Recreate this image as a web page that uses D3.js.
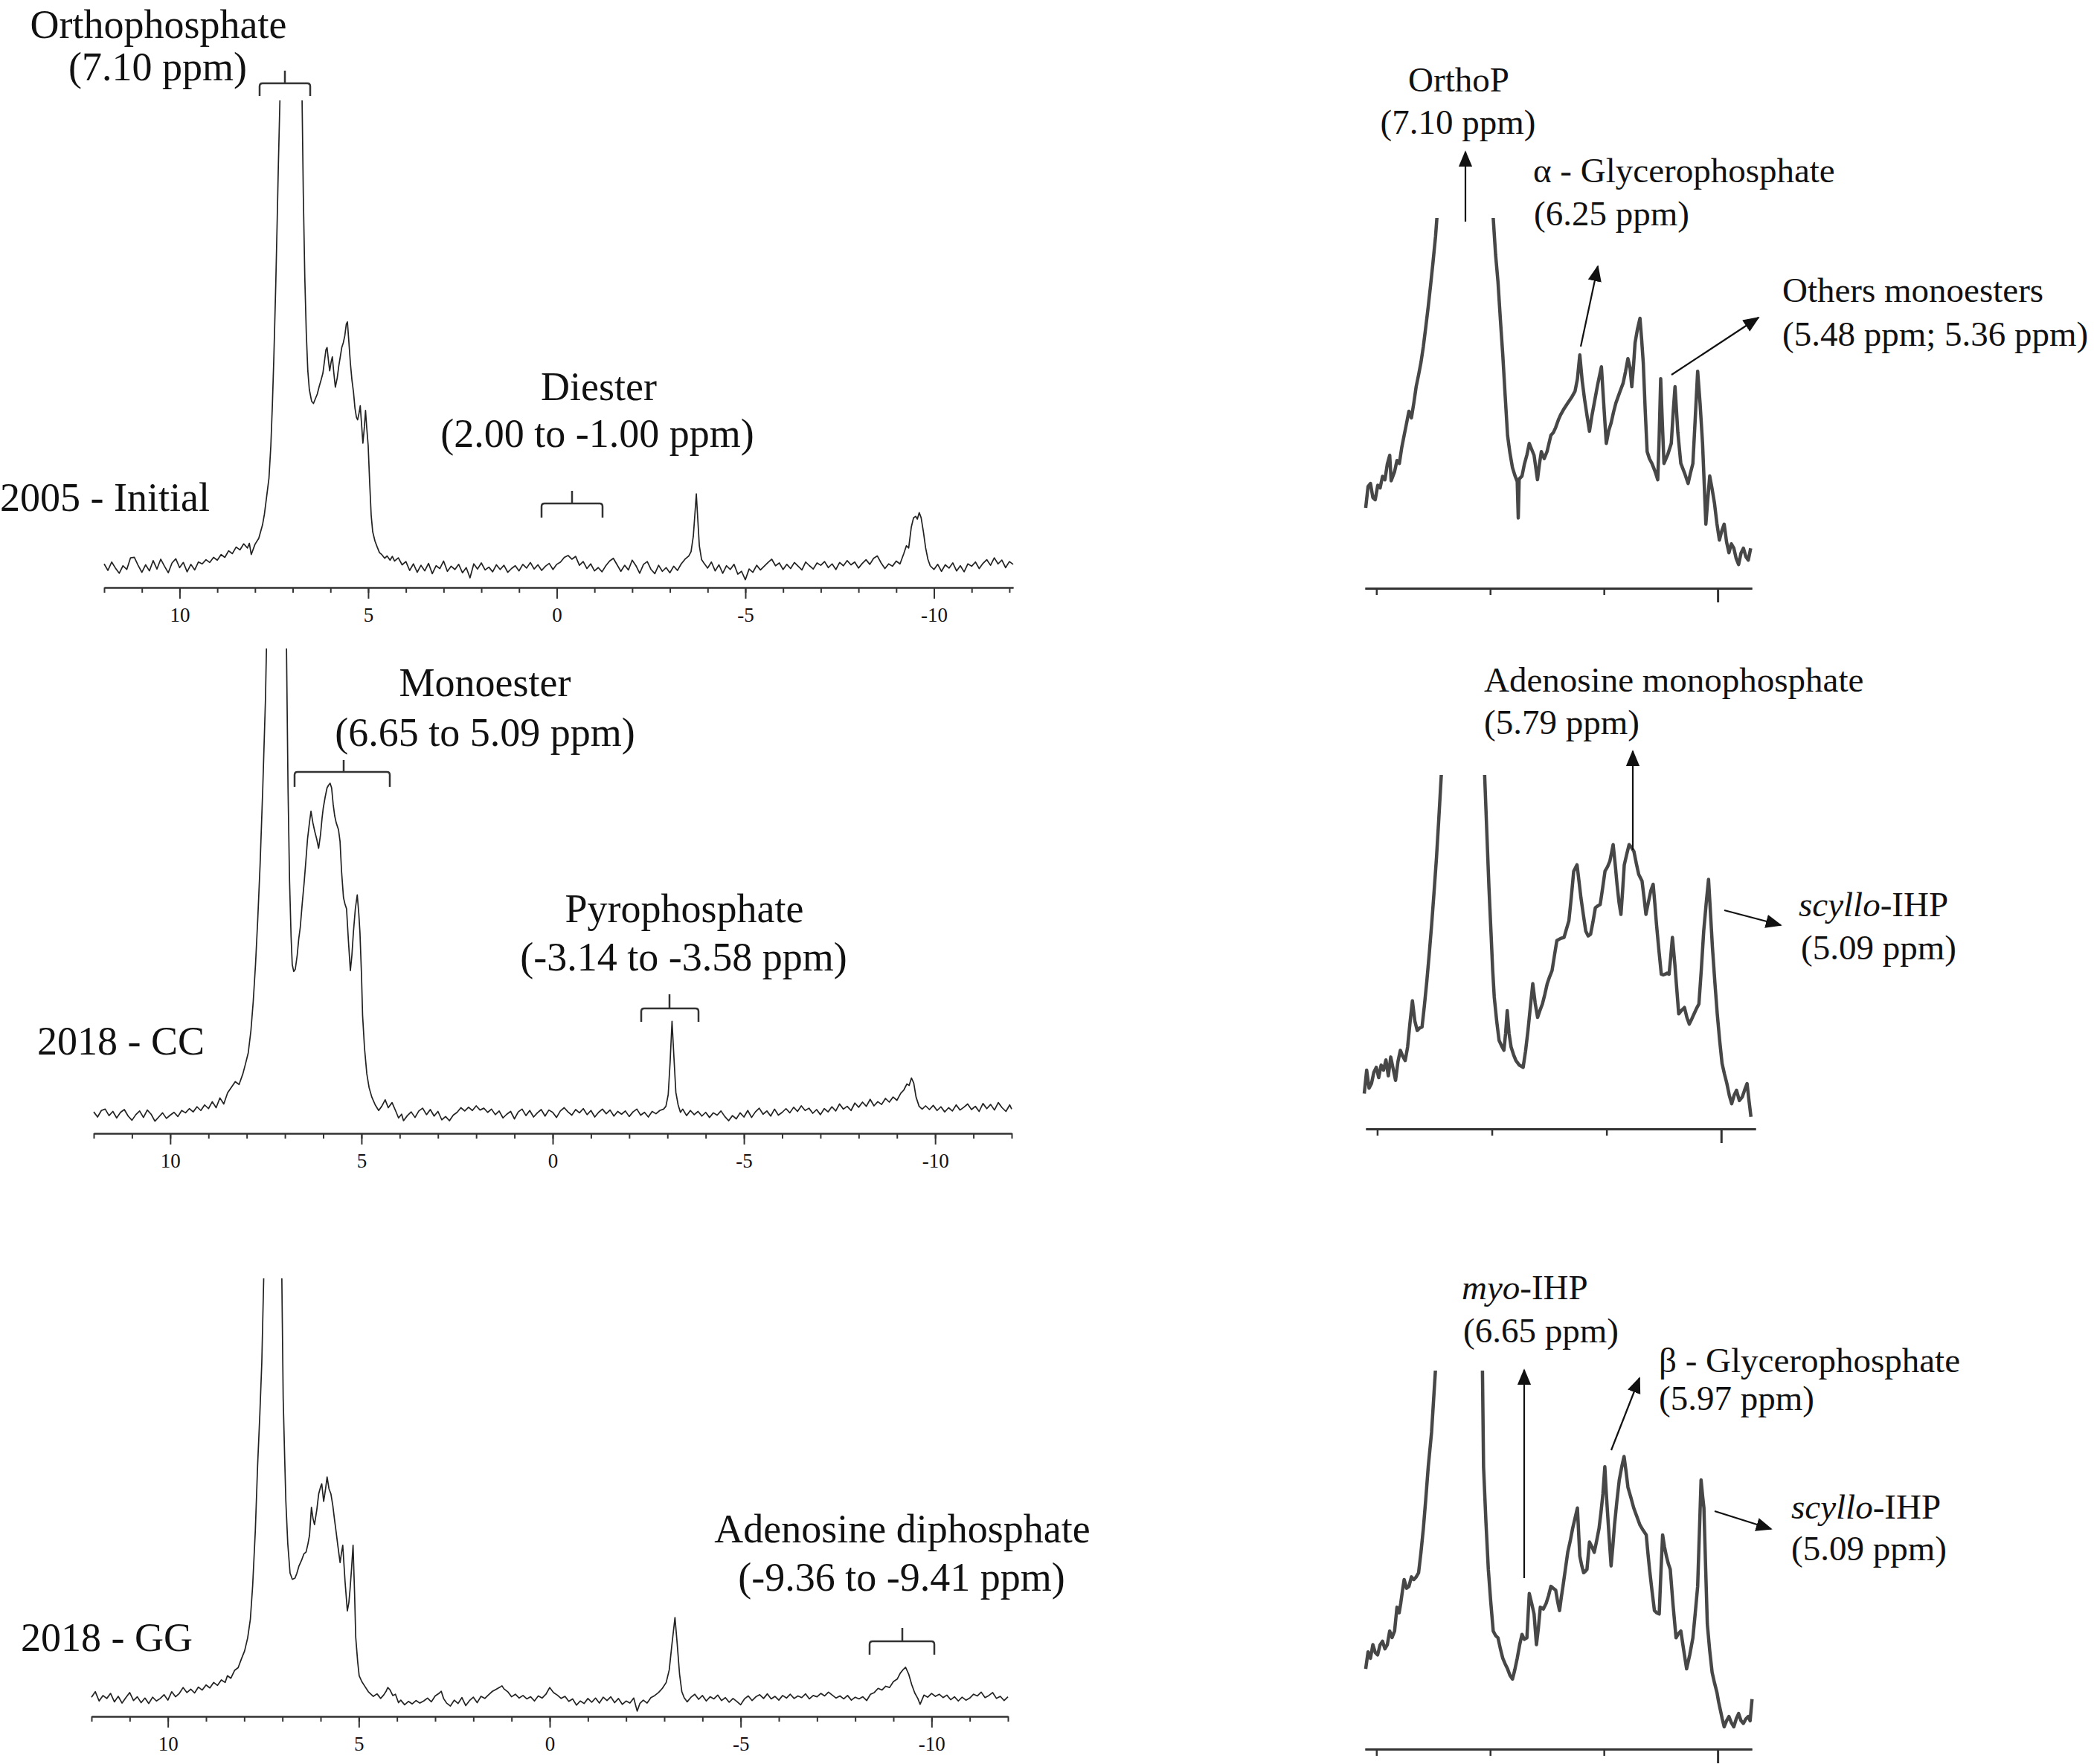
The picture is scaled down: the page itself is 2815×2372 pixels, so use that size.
<!DOCTYPE html>
<html><head><meta charset="utf-8">
<script src="https://cdn.jsdelivr.net/npm/d3@7"></script>
<style>
body{margin:0;background:#fff}
text{font-family:"Liberation Serif","Times New Roman",serif;fill:#111}
</style>
</head><body>
<script>
// ===== DATA =====
// Left wide-range spectra: [ppm, intensity] (0 = baseline, 100 = top of plot, larger values run off the top)
const spectrumInitial = [
[12,0.6],[11.9,-0.8],[11.8,1.0],[11.7,-0.3],[11.6,-1.4],[11.5,0.2],[11.4,-0.6],[11.3,1.9],[11.2,2.0],[11.1,0.3],
[11,-1.2],[10.9,0.4],[10.8,-0.9],[10.7,1.3],[10.6,-0.5],[10.5,1.6],[10.4,0.1],[10.3,-1.3],[10.2,0.8],[10.1,1.7],
[10,-0.2],[9.9,0.9],[9.8,-1.1],[9.7,0.5],[9.6,-0.7],[9.5,1.0],[9.4,0.6],[9.3,1.5],[9.2,0.9],[9.1,2.0],
[9,1.4],[8.9,2.6],[8.8,2.0],[8.7,3.4],[8.6,2.8],[8.5,4.2],[8.4,3.6],[8.3,4.9],[8.2,4.0],[8.15,5.0],[8.1,2.6],
[8,4.8],[7.9,6.1],[7.8,9.0],[7.75,11.3],[7.7,14.5],[7.63,19],[7.58,26],[7.54,34.6],[7.5,45],[7.45,60.5],[7.41,75],
[7.38,86.4],[7.34,100],[7.3,125],[7.2,200],[7.1,240],[6.9,200],[6.8,140],[6.76,105],[6.72,80],[6.68,62],[6.64,50],
[6.6,42],[6.56,38],[6.5,35.5],[6.45,35],[6.4,36],[6.35,37],[6.3,38.6],[6.25,40],[6.2,41.5],[6.16,44],[6.12,46.5],
[6.09,47],[6.05,44],[6.02,42],[5.98,44],[5.95,45],[5.91,41.5],[5.87,38.5],[5.82,40.5],[5.78,43],[5.74,45],[5.7,47],
[5.66,48],[5.62,49.5],[5.58,52],[5.55,52.5],[5.51,48],[5.47,43.5],[5.43,40],[5.39,37.5],[5.35,34],[5.31,32],[5.28,31.5],
[5.24,33],[5.21,34.5],[5.17,30],[5.14,26.5],[5.1,30],[5.07,33.5],[5.04,30],[5,26],[4.96,18],[4.92,11],[4.88,7.5],
[4.82,5.5],[4.76,4.2],[4.7,3.0],[4.64,2.6],[4.56,1.8],[4.5,2.3],[4.42,1.4],[4.36,2.2],[4.3,1.2],[4.2,1.9],[4.1,0.4],
[4,1.1],[3.9,-0.8],[3.8,0.6],[3.7,-1.2],[3.6,0.3],[3.5,-0.9],[3.4,0.7],[3.3,-1.5],[3.2,0.2],[3.1,-0.4],[3,1.2],
[2.9,-1.0],[2.8,0.1],[2.7,-0.6],[2.6,0.5],[2.5,-1.3],[2.4,-0.2],[2.3,-2.4],[2.2,0.6],[2.1,-0.5],[2,0.8],[1.9,-0.7],
[1.8,-0.1],[1.7,-1.1],[1.6,0.4],[1.5,-0.6],[1.4,0.3],[1.3,-1.2],[1.2,-0.4],[1.1,0.2],[1,-0.9],[0.9,0.5],[0.8,-0.3],
[0.7,0.9],[0.6,-0.5],[0.5,0.4],[0.4,-0.8],[0.3,0.1],[0.2,0.7],[0.1,-0.6],[0,0.5],[-0.1,1.0],[-0.2,2.0],[-0.3,2.4],
[-0.4,1.6],[-0.5,2.2],[-0.6,0.3],[-0.7,1.1],[-0.8,-0.4],[-0.9,0.6],[-1,-0.9],[-1.1,-0.2],[-1.2,-1.1],[-1.3,0.2],
[-1.4,1.2],[-1.5,1.8],[-1.6,0.4],[-1.7,-1.0],[-1.8,0.3],[-1.9,-0.7],[-2,1.4],[-2.1,0.2],[-2.2,-1.4],[-2.3,0.5],
[-2.4,1.1],[-2.5,-0.6],[-2.6,-1.5],[-2.7,0.3],[-2.8,-1.0],[-2.9,-0.2],[-3,-1.3],[-3.1,0.1],[-3.2,-0.8],[-3.3,0.6],
[-3.4,1.6],[-3.5,2.3],[-3.56,3.2],[-3.62,6.5],[-3.66,11],[-3.7,15.6],[-3.74,10],[-3.78,4.5],[-3.84,1.5],[-3.9,0.8],
[-4,-0.3],[-4.1,1.0],[-4.2,-0.9],[-4.3,0.4],[-4.4,-1.4],[-4.5,0.2],[-4.6,-0.6],[-4.7,0.5],[-4.8,-1.6],[-4.9,-1.0],
[-5,-2.8],[-5.1,-0.5],[-5.2,-1.2],[-5.3,0.3],[-5.4,-0.7],[-5.5,0.1],[-5.6,0.9],[-5.7,1.6],[-5.8,0.2],[-5.9,0.8],
[-6,-0.6],[-6.1,0.5],[-6.2,-0.4],[-6.3,0.9],[-6.4,0.1],[-6.5,-0.7],[-6.6,1.0],[-6.7,0.2],[-6.8,-0.5],[-6.9,0.8],
[-7,0.3],[-7.1,1.1],[-7.2,-0.2],[-7.3,0.6],[-7.4,-0.6],[-7.5,0.9],[-7.6,0.2],[-7.7,1.3],[-7.8,0.4],[-7.9,1.0],
[-8,-0.3],[-8.1,0.7],[-8.2,1.5],[-8.3,0.5],[-8.4,1.8],[-8.5,2.3],[-8.6,0.8],[-8.7,-0.4],[-8.8,0.6],[-8.9,0.1],
[-9,1.2],[-9.1,0.6],[-9.2,2.8],[-9.27,4.5],[-9.33,4.0],[-9.4,8.5],[-9.46,10.5],[-9.52,10.8],[-9.56,10.2],[-9.61,11.6],
[-9.66,10.5],[-9.72,7.5],[-9.78,4.0],[-9.84,1.6],[-9.9,0.2],[-10,-0.6],[-10.1,0.5],[-10.2,-1.0],[-10.3,0.4],[-10.4,-0.3],
[-10.5,0.8],[-10.6,-0.9],[-10.7,0.2],[-10.8,-1.1],[-10.9,0.6],[-11,0.1],[-11.1,1.0],[-11.2,-0.4],[-11.3,0.7],[-11.4,1.5],
[-11.5,0.3],[-11.6,1.9],[-11.7,0.6],[-11.8,1.4],[-11.9,-0.2],[-12,1.1],[-12.1,0.5]
];

const spectrumCC = [
[12,0.3],[11.9,-0.8],[11.8,0.6],[11.7,0.9],[11.6,-0.5],[11.5,0.4],[11.4,-1.0],[11.3,0.2],[11.2,0.8],[11.1,-0.6],
[11,-1.5],[10.9,-0.3],[10.8,0.5],[10.7,-0.9],[10.6,0.7],[10.5,-0.2],[10.4,-1.7],[10.3,-0.8],[10.2,0.1],[10.1,-1.1],
[10,-0.4],[9.9,0.2],[9.8,-0.7],[9.7,0.6],[9.6,0.1],[9.5,1.0],[9.4,0.3],[9.3,1.4],[9.2,0.6],[9.1,1.8],
[9,1.0],[8.9,2.5],[8.8,1.2],[8.7,3.3],[8.6,2.0],[8.5,4.4],[8.4,5.6],[8.3,6.8],[8.2,6.2],[8.1,8.5],
[8.03,10.7],[7.96,13],[7.89,17.8],[7.83,24],[7.77,32],[7.71,42],[7.65,53.5],[7.58,70],[7.51,89],[7.46,110],
[7.4,160],[7.2,230],[7,150],[6.96,100],[6.92,70],[6.88,50],[6.84,38],[6.81,32],[6.77,30.5],[6.73,31],
[6.68,34],[6.64,37.5],[6.6,40],[6.55,45],[6.5,49.5],[6.46,53.6],[6.41,59],[6.36,62.5],[6.32,65],[6.27,62.5],
[6.22,60.6],[6.17,59],[6.12,57],[6.07,60],[6.03,63.5],[6,65.6],[5.95,68],[5.9,70],[5.86,70.6],[5.82,71],
[5.78,70],[5.74,66.5],[5.7,64],[5.66,62.5],[5.6,61],[5.56,58.5],[5.52,52],[5.47,46.4],[5.43,45],[5.39,44],
[5.34,37],[5.29,30.7],[5.25,34],[5.21,39],[5.16,44],[5.11,47],[5.07,43],[5.04,39],[5,30],[4.97,21],
[4.92,14],[4.86,8.5],[4.8,5.5],[4.73,3.5],[4.64,1.8],[4.55,0.6],[4.47,1.5],[4.38,2.9],[4.3,1.2],[4.2,2.3],
[4.1,0.4],[4.03,-1.0],[3.95,-0.2],[3.9,-1.6],[3.8,-0.5],[3.7,0.3],[3.6,-0.9],[3.5,0.5],[3.4,1.1],[3.3,-0.3],
[3.2,0.8],[3.1,-0.6],[3,0.4],[2.9,-1.4],[2.8,-0.7],[2.7,-1.6],[2.6,-0.4],[2.5,0.2],[2.4,1.2],[2.3,0.5],
[2.2,1.3],[2.1,0.6],[2,1.6],[1.9,0.7],[1.8,1.1],[1.7,0.2],[1.6,0.9],[1.5,-0.3],[1.4,0.5],[1.3,-1.0],
[1.2,-0.2],[1.1,0.4],[1,-1.2],[0.9,0.3],[0.8,0.9],[0.7,-0.5],[0.6,0.6],[0.5,-0.8],[0.4,0.1],[0.3,0.8],
[0.2,-0.6],[0.1,0.7],[0,0.2],[-0.1,-0.9],[-0.2,0.5],[-0.3,1.2],[-0.4,0.3],[-0.5,-0.4],[-0.6,0.8],[-0.7,0.1],
[-0.8,1.0],[-0.9,-0.3],[-1,0.6],[-1.1,-0.8],[-1.2,0.2],[-1.3,0.9],[-1.4,-0.1],[-1.5,0.7],[-1.6,-0.6],[-1.7,0.4],
[-1.8,-0.2],[-1.9,0.5],[-2,-0.7],[-2.1,0.3],[-2.2,0.9],[-2.3,-0.4],[-2.4,0.2],[-2.5,-0.8],[-2.6,0.4],[-2.7,-0.1],
[-2.8,0.6],[-2.9,0.9],[-2.96,1.5],[-3.02,4],[-3.07,11],[-3.12,19.8],[-3.17,12],[-3.22,4.5],[-3.28,1.8],[-3.34,0.2],
[-3.4,0.9],[-3.5,-0.5],[-3.6,0.6],[-3.7,-0.3],[-3.8,0.4],[-3.9,-0.6],[-4,0.2],[-4.1,-0.9],[-4.2,0.1],[-4.3,-0.4],
[-4.4,0.5],[-4.5,-0.7],[-4.6,-1.6],[-4.7,-0.5],[-4.8,-1.2],[-4.9,0.1],[-5,-0.8],[-5.1,0.6],[-5.2,-0.9],[-5.3,0.3],
[-5.4,1.1],[-5.5,-0.2],[-5.6,0.5],[-5.7,-0.6],[-5.8,0.9],[-5.9,-0.4],[-6,0.2],[-6.1,1.0],[-6.2,0.1],[-6.3,1.3],
[-6.4,0.4],[-6.5,1.6],[-6.6,0.6],[-6.7,1.1],[-6.8,0],[-6.9,0.8],[-7,-0.3],[-7.1,1.0],[-7.2,0.3],[-7.3,1.4],
[-7.4,0.5],[-7.5,2.0],[-7.6,0.9],[-7.7,1.5],[-7.8,0.6],[-7.9,2.2],[-8,1.3],[-8.1,2.4],[-8.2,1.5],[-8.3,3.0],
[-8.4,1.6],[-8.5,2.5],[-8.6,1.9],[-8.7,3.2],[-8.8,2.4],[-8.9,3.5],[-9,2.8],[-9.1,4.3],[-9.18,5.0],[-9.26,6.3],
[-9.32,6.0],[-9.38,7.6],[-9.44,6.5],[-9.5,3.5],[-9.58,1.5],[-9.66,0.9],[-9.75,1.6],[-9.85,0.8],[-9.95,1.7],[-10.05,0.6],
[-10.15,1.4],[-10.25,0.3],[-10.35,1.2],[-10.45,0.5],[-10.55,1.8],[-10.65,0.7],[-10.75,1.3],[-10.85,2.0],[-10.95,0.8],[-11.05,1.5],
[-11.15,0.4],[-11.25,2.1],[-11.35,1.0],[-11.45,1.9],[-11.55,0.7],[-11.65,2.3],[-11.75,1.2],[-11.85,0.4],[-11.95,1.8],[-12,0.9]
];

const spectrumGG = [
[12,0.5],[11.9,1.8],[11.8,-0.4],[11.7,0.9],[11.6,0.2],[11.5,1.4],[11.4,-0.6],[11.3,0.7],[11.2,-0.9],[11.1,0.4],
[11,1.6],[10.9,-0.3],[10.8,0.6],[10.7,-0.8],[10.6,0.3],[10.5,-1.0],[10.4,0.5],[10.3,-0.4],[10.2,0.2],[10.1,1.1],
[10,-0.2],[9.9,1.8],[9.8,0.6],[9.7,1.4],[9.6,2.8],[9.5,1.6],[9.4,2.4],[9.3,1.5],[9.2,2.9],[9.1,2.2],
[9,3.4],[8.9,2.7],[8.8,4.0],[8.7,3.3],[8.6,4.6],[8.5,4.0],[8.44,5.6],[8.35,5.0],[8.25,6.9],[8.16,7.5],
[8.07,9.7],[7.99,11.5],[7.91,14.6],[7.84,19],[7.78,26.9],[7.71,40],[7.65,55.5],[7.59,68],[7.54,80],[7.49,100],
[7.44,140],[7.3,230],[7.1,200],[7.04,120],[6.98,71.5],[6.94,57],[6.91,47],[6.86,37],[6.8,30],[6.74,28.5],
[6.67,28.8],[6.62,30],[6.57,31.6],[6.5,33],[6.44,34.5],[6.38,35],[6.33,37],[6.29,39],[6.26,43],[6.24,45.6],
[6.2,43],[6.16,41.5],[6.1,45],[6.05,48.8],[6,50.5],[5.97,51.2],[5.92,47],[5.87,50],[5.83,52.8],[5.78,50],
[5.73,48.8],[5.68,46],[5.64,43],[5.59,39.5],[5.55,36.6],[5.49,32.5],[5.45,35],[5.42,36.6],[5.36,28],[5.3,21],
[5.26,23],[5.23,26],[5.19,31],[5.15,36.6],[5.11,25],[5.08,14.7],[5.03,9],[4.99,5.6],[4.92,4.2],[4.85,3.2],
[4.75,1.8],[4.62,0.7],[4.52,1.3],[4.43,0.2],[4.35,1.0],[4.28,2.0],[4.24,2.8],[4.18,2.2],[4.11,0.9],[4.04,1.2],
[3.96,-0.8],[3.9,-0.2],[3.8,-1.3],[3.7,-0.5],[3.6,-1.1],[3.5,-0.3],[3.4,-0.9],[3.3,-0.4],[3.2,0.3],[3.1,-0.6],
[3,0.8],[2.9,1.4],[2.84,1.9],[2.78,0.2],[2.7,-0.9],[2.6,-1.6],[2.5,-0.2],[2.4,-1.0],[2.3,0.4],[2.2,-1.5],
[2.1,-0.3],[2,0.5],[1.9,-0.8],[1.8,0.7],[1.7,0.2],[1.6,1.1],[1.5,1.9],[1.4,2.4],[1.3,2.9],[1.25,3.2],
[1.2,2.5],[1.1,1.8],[1,0.6],[0.9,1.2],[0.8,0.3],[0.7,0.9],[0.6,0.1],[0.5,0.6],[0.4,-0.4],[0.3,0.8],
[0.2,0.3],[0.1,1.2],[0,2.8],[-0.1,1.6],[-0.2,1.0],[-0.3,0.2],[-0.4,0.7],[-0.5,-0.5],[-0.6,0.1],[-0.7,-1.4],
[-0.8,-0.4],[-0.9,-1.0],[-1,0.2],[-1.1,-0.7],[-1.2,0.3],[-1.3,-0.9],[-1.4,0.5],[-1.5,-0.3],[-1.6,0.6],[-1.7,-0.8],
[-1.8,0.2],[-1.9,-1.2],[-2,-0.4],[-2.1,-0.9],[-2.2,0.3],[-2.29,-2.8],[-2.36,-1.0],[-2.45,-0.2],[-2.55,-0.9],[-2.65,0.4],
[-2.75,0.9],[-2.85,1.6],[-2.95,2.6],[-3.05,4.0],[-3.13,7],[-3.2,13],[-3.28,19.4],[-3.34,13],[-3.4,6],[-3.46,1.8],
[-3.52,0.4],[-3.6,-0.6],[-3.7,0.5],[-3.8,1.2],[-3.9,0],[-4,0.9],[-4.1,-0.4],[-4.2,0.6],[-4.3,0.1],[-4.4,1.0],
[-4.5,-0.3],[-4.6,0.4],[-4.7,-0.7],[-4.8,0.2],[-4.9,-0.5],[-5,-1.3],[-5.1,0.1],[-5.2,0.8],[-5.3,-0.3],[-5.4,0.6],
[-5.5,1.1],[-5.6,0.2],[-5.7,1.3],[-5.8,0.1],[-5.9,0.7],[-6,-0.2],[-6.1,0.9],[-6.2,0.3],[-6.3,1.2],[-6.4,0.2],
[-6.5,0.8],[-6.6,0.4],[-6.7,1.3],[-6.8,0.1],[-6.9,0.9],[-7,0.6],[-7.1,1.4],[-7.2,0.8],[-7.3,1.7],[-7.4,1.0],
[-7.5,0.3],[-7.6,0.8],[-7.7,0.1],[-7.8,0.9],[-7.9,-0.2],[-8,0.5],[-8.1,0.1],[-8.2,0.6],[-8.3,-0.3],[-8.4,1.2],
[-8.5,1.6],[-8.6,2.6],[-8.7,2.2],[-8.8,3.1],[-8.9,2.8],[-9,4.2],[-9.1,4.8],[-9.18,6.2],[-9.26,7.1],[-9.32,7.6],
[-9.4,6.0],[-9.48,3.5],[-9.56,1.5],[-9.64,0.2],[-9.7,-1.2],[-9.8,1.0],[-9.9,0.5],[-10,1.4],[-10.1,0.7],[-10.2,1.2],
[-10.3,0.4],[-10.4,1.0],[-10.5,-0.1],[-10.6,0.6],[-10.7,-0.4],[-10.8,0.5],[-10.9,-0.2],[-11,0.3],[-11.1,1.2],[-11.2,0.8],
[-11.3,1.7],[-11.4,0.4],[-11.5,0.9],[-11.6,1.6],[-11.7,0.2],[-11.8,0.7],[-11.9,-0.3],[-12,0.6]
];

// Right expanded monoester-region spectra (8.1 to 4.7 ppm)
const expandInitial = [
[8.094,21.7],[8.073,27.5],[8.052,28.3],[8.031,24.5],[8.01,23.9],[7.988,27.8],[7.967,27.1],[7.946,30.2],[7.925,29.3],[7.904,33.5],
[7.883,35.9],[7.87,29.0],[7.84,31.5],[7.819,34.5],[7.798,33.7],[7.777,38.0],[7.756,41.3],[7.735,44.5],[7.714,47.8],[7.692,46.0],
[7.671,50],[7.65,54.5],[7.629,57.6],[7.608,61.0],[7.587,65.3],[7.566,70.5],[7.544,76.1],[7.523,82.0],[7.502,88.1],[7.48,95],
[7.468,100],[7.45,120],[7.2,200],[6.98,120],[6.973,100],[6.952,90],[6.931,82.7],[6.91,72.5],[6.889,63],[6.868,52],
[6.847,41.3],[6.826,36.5],[6.804,32.6],[6.783,30.5],[6.762,28.8],[6.753,19],[6.745,29.5],[6.72,30.3],[6.699,33.5],[6.677,36.0],
[6.656,39.1],[6.635,37.5],[6.614,35.9],[6.584,29.3],[6.567,33.5],[6.55,36.9],[6.525,35.0],[6.5,36.9],[6.466,41.3],[6.445,42.0],
[6.424,43.4],[6.4,45.5],[6.381,46.8],[6.35,48.5],[6.318,50],[6.285,51.5],[6.254,53.2],[6.233,56.5],[6.212,63],[6.191,56.0],
[6.17,51],[6.148,46.5],[6.127,42.4],[6.106,46.5],[6.085,50],[6.055,55.0],[6.022,59.8],[6.0,49.0],[5.979,39.1],[5.958,42.5],
[5.937,44.6],[5.916,47.5],[5.895,50],[5.86,53.0],[5.831,55.4],[5.81,58.5],[5.789,62],[5.77,59.5],[5.755,54.4],[5.74,60.0],
[5.726,66.3],[5.705,70.0],[5.683,72.9],[5.668,67.0],[5.654,60.8],[5.637,48.0],[5.62,36.9],[5.6,35.0],[5.578,33.7],[5.55,31.5],
[5.527,29.3],[5.515,40.0],[5.501,56.6],[5.487,45.0],[5.472,33.7],[5.44,36.0],[5.408,39.1],[5.39,48.0],[5.375,54.4],[5.35,42.0],
[5.324,33.7],[5.29,31.0],[5.26,28.3],[5.24,31.0],[5.218,33.7],[5.197,46.0],[5.176,58.6],[5.155,50.0],[5.133,39.1],[5.118,28.0],
[5.104,17.3],[5.087,24.0],[5.07,30.3],[5.05,27.0],[5.028,22.9],[5.007,17.5],[4.985,13],[4.964,15.5],[4.943,17.3],[4.922,12.5],
[4.901,9.6],[4.88,12.0],[4.858,10.8],[4.837,8.0],[4.816,6.4],[4.795,9.5],[4.774,10.8],[4.752,8.5],[4.731,7.6],[4.71,10.8]
];

const expandCC = [
[8.113,10],[8.092,16.6],[8.071,11.5],[8.05,12.8],[8.029,16.0],[8.008,17.4],[7.987,14.5],[7.966,18.0],[7.945,16.6],[7.924,19.5],
[7.903,15.0],[7.882,20.3],[7.861,17.0],[7.84,13.7],[7.819,19.0],[7.798,22.2],[7.777,20.5],[7.756,19.3],[7.735,23.1],[7.714,30.0],
[7.693,36.2],[7.672,30.5],[7.651,27.8],[7.63,28.5],[7.609,28.8],[7.588,35.0],[7.567,41.8],[7.546,49.5],[7.525,57.8],[7.504,67.0],
[7.483,76.6],[7.462,88],[7.441,100],[7.42,130],[7.2,200],[7.07,130],[7.063,100],[7.042,82.2],[7.025,68],[7.008,55.9],
[6.993,45],[6.979,37.2],[6.958,30.5],[6.937,25],[6.916,23.5],[6.895,22.2],[6.88,27],[6.866,33.4],[6.85,27.0],[6.832,23.1],
[6.811,21.0],[6.79,19.3],[6.76,18.0],[6.727,17.4],[6.706,22.0],[6.685,27.8],[6.664,34.5],[6.643,41],[6.622,35.5],[6.601,31.5],
[6.58,33.5],[6.559,35.3],[6.538,38.0],[6.517,41],[6.496,43.0],[6.475,44.7],[6.454,49.0],[6.433,53.2],[6.4,53.8],[6.37,54.1],
[6.349,56.5],[6.328,58.8],[6.307,65.5],[6.286,72.8],[6.257,74.6],[6.24,70.0],[6.223,65.3],[6.202,60.5],[6.181,55.9],[6.16,54.5],
[6.139,55],[6.118,58.5],[6.097,62.5],[6.076,63.0],[6.055,63.4],[6.034,68.0],[6.013,72.8],[5.992,74.0],[5.971,75.6],[5.956,78.0],
[5.942,80.3],[5.925,75.0],[5.908,69.1],[5.891,64.0],[5.874,60.6],[5.86,67.0],[5.845,74.6],[5.824,77.5],[5.803,80.3],[5.782,79.5],
[5.761,78.4],[5.74,75.0],[5.719,71.9],[5.69,70],[5.673,65.5],[5.656,60.6],[5.635,64.0],[5.614,67.2],[5.593,69.1],[5.578,63.5],
[5.564,57.8],[5.543,50.5],[5.522,43.7],[5.505,43.5],[5.488,43.7],[5.471,44.0],[5.454,43.7],[5.44,48.5],[5.425,54.1],[5.404,46.6],
[5.387,39.5],[5.37,32.5],[5.345,33.5],[5.32,34.3],[5.299,31.5],[5.278,29.6],[5.257,31.0],[5.236,32.5],[5.215,34.0],[5.194,35.3],
[5.173,45.0],[5.152,55.9],[5.131,63.5],[5.11,70.5],[5.093,61.0],[5.076,51.3],[5.055,41.5],[5.034,32.5],[5.013,25.0],[4.992,18.5],
[4.971,15.5],[4.95,12.8],[4.929,9.5],[4.908,7.1],[4.887,9.5],[4.866,10.9],[4.841,8.0],[4.816,9],[4.795,11.0],[4.774,12.8],
[4.757,8.0],[4.74,3.4]
];

const expandGG = [
[8.094,21.2],[8.073,25.7],[8.052,24.0],[8.031,27.6],[8.01,25.5],[7.989,24.9],[7.968,27.5],[7.946,28.5],[7.925,26.5],[7.904,27.6],
[7.883,31.2],[7.862,29.5],[7.84,31.2],[7.819,37.5],[7.8,36.0],[7.786,38.5],[7.77,42.0],[7.756,44.8],[7.735,42.5],[7.714,43],
[7.692,45.5],[7.671,44.8],[7.65,45.5],[7.629,46.6],[7.608,52.0],[7.587,58.3],[7.566,66.0],[7.544,74.6],[7.515,83.7],[7.481,100],
[7.46,130],[7.25,200],[7.079,130],[7.058,74.6],[7.037,60.0],[7.016,47.5],[6.995,39.0],[6.973,31.2],[6.952,30.0],[6.931,29.4],
[6.91,26.5],[6.889,24],[6.868,22.5],[6.847,21.2],[6.826,19.5],[6.804,18.5],[6.783,21.0],[6.762,24],[6.741,27.5],[6.72,30.3],
[6.7,29.0],[6.677,29.4],[6.656,41.1],[6.635,38.5],[6.614,35.7],[6.593,27.6],[6.576,32.0],[6.559,37.5],[6.533,37.0],[6.508,38.5],
[6.487,40.5],[6.466,43],[6.445,42.5],[6.424,42],[6.407,39.0],[6.39,36.6],[6.375,40.0],[6.36,43],[6.339,47.5],[6.318,52],
[6.296,55.0],[6.275,58.3],[6.254,61.0],[6.233,63.7],[6.212,51],[6.195,48.5],[6.178,46.6],[6.163,47.0],[6.149,47.5],[6.127,54.7],
[6.106,53.5],[6.085,52],[6.064,55.0],[6.043,58.3],[6.026,62.5],[6.009,67.4],[5.992,74.6],[5.98,68.0],[5.967,61.9],[5.952,55.0],
[5.937,48.4],[5.922,53.5],[5.907,59.2],[5.886,65.5],[5.865,71.1],[5.844,74.5],[5.823,77.3],[5.806,73.5],[5.789,69.2],[5.763,66.5],
[5.738,63.7],[5.711,61.5],[5.683,59.2],[5.655,57.8],[5.628,56.6],[5.614,52.0],[5.599,47.5],[5.578,42.0],[5.556,36.6],[5.535,36.0],
[5.514,35.7],[5.5,46.0],[5.484,56.6],[5.468,53.5],[5.451,51],[5.434,49.0],[5.417,47.5],[5.392,38.0],[5.366,29.4],[5.345,30.5],
[5.324,31.2],[5.298,26.0],[5.273,21.2],[5.245,25.0],[5.218,29.4],[5.197,36.0],[5.176,43],[5.16,58.0],[5.146,71.1],[5.133,67.0],
[5.121,63.7],[5.106,48.0],[5.091,33],[5.07,26.0],[5.049,20.3],[5.028,17.5],[5.006,14.9],[4.992,12.5],[4.977,10.4],[4.96,8.0],
[4.943,5.9],[4.922,7.5],[4.901,8.6],[4.88,7.0],[4.858,5.9],[4.837,8.0],[4.816,9.4],[4.795,7.5],[4.774,6.8],[4.752,8.0],
[4.731,8.6],[4.715,7.5],[4.698,13.2]
];

// Axis ticks / labels
const majorTicks = [10, 5, 0, -5, -10];
const minorTicks = [12,11,10,9,8,7,6,5,4,3,2,1,0,-1,-2,-3,-4,-5,-6,-7,-8,-9,-10,-11,-12];
const expandMinorTicks = [8, 7, 6];
const expandMajorTicks = [5];
const sampleNames = ["2005 - Initial", "2018 - CC", "2018 - GG"];

// ===== DRAWING =====
const W = 2815, H = 2372;
const svg = d3.select("body").append("svg").attr("width", W).attr("height", H);
const defs = svg.append("defs");
defs.append("marker").attr("id", "ah").attr("viewBox", "0 0 12 10")
  .attr("refX", 11).attr("refY", 5).attr("markerUnits", "userSpaceOnUse")
  .attr("markerWidth", 22).attr("markerHeight", 19).attr("orient", "auto")
  .append("path").attr("d", "M0,0L12,5L0,10Z").attr("fill", "#111");

function styleAxis(g, sw) {
  g.select(".domain").attr("stroke", "#333").attr("stroke-width", sw);
  g.selectAll(".tick line").attr("stroke", "#333").attr("stroke-width", sw);
  g.selectAll(".tick text").attr("fill", "#222").attr("font-size", 27)
    .attr("font-family", "'Liberation Serif','Times New Roman',serif");
}

function leftPanel(id, data, dom, xr, axisY, baseY, topY) {
  const x = d3.scaleLinear().domain(dom).range(xr);
  const y = d3.scaleLinear().domain([0, 100]).range([baseY, topY]);
  defs.append("clipPath").attr("id", id).append("rect")
    .attr("x", xr[0] - 10).attr("y", topY).attr("width", xr[1] - xr[0] + 20).attr("height", axisY - topY);
  svg.append("path").datum(data).attr("clip-path", `url(#${id})`)
    .attr("d", d3.line().x(d => x(d[0])).y(d => y(d[1])))
    .attr("fill", "none").attr("stroke", "#222").attr("stroke-width", 1.7).attr("stroke-linejoin", "round");
  const gMinor = svg.append("g").attr("transform", `translate(0,${axisY})`)
    .call(d3.axisBottom(x).tickValues(minorTicks.filter(t => t <= dom[0] && t >= dom[1])).tickSize(7).tickSizeOuter(0).tickFormat(""));
  styleAxis(gMinor, 2);
  const gMajor = svg.append("g").attr("transform", `translate(0,${axisY})`)
    .call(d3.axisBottom(x).tickValues(majorTicks).tickSize(15).tickSizeOuter(0).tickPadding(12).tickFormat(d => String(d)));
  styleAxis(gMajor, 2);
  return x;
}

function rightPanel(id, data, xr, axisY, topY) {
  const x = d3.scaleLinear().domain([8.1, 4.7]).range(xr);
  const y = d3.scaleLinear().domain([0, 100]).range([axisY, topY]);
  defs.append("clipPath").attr("id", id).append("rect")
    .attr("x", xr[0] - 10).attr("y", topY).attr("width", xr[1] - xr[0] + 20).attr("height", axisY - topY);
  svg.append("path").datum(data).attr("clip-path", `url(#${id})`)
    .attr("d", d3.line().x(d => x(d[0])).y(d => y(d[1])))
    .attr("fill", "none").attr("stroke", "#474747").attr("stroke-width", 4.5).attr("stroke-linejoin", "round");
  const g1 = svg.append("g").attr("transform", `translate(0,${axisY})`)
    .call(d3.axisBottom(x).tickValues(expandMinorTicks).tickSize(9).tickSizeOuter(0).tickFormat(""));
  styleAxis(g1, 2.5);
  const g2 = svg.append("g").attr("transform", `translate(0,${axisY})`)
    .call(d3.axisBottom(x).tickValues(expandMajorTicks).tickSize(19).tickSizeOuter(0).tickFormat(""));
  styleAxis(g2, 3);
}

leftPanel("c1", spectrumInitial, [12, -12.1], [140, 1362], 790, 762, 135);
leftPanel("c2", spectrumCC, [12, -12], [126, 1360], 1524, 1497, 872);
leftPanel("c3", spectrumGG, [12, -12], [123, 1355], 2308, 2285, 1719);

rightPanel("r1", expandInitial, [1835, 2355], 791, 293);
rightPanel("r2", expandCC, [1836, 2360], 1518, 1042);
rightPanel("r3", expandGG, [1835, 2355], 2352, 1843);

// Text labels
function label(parts, x, y, size, anchor) {
  const t = svg.append("text").attr("x", x).attr("y", y).attr("font-size", size)
    .attr("text-anchor", anchor || "middle");
  (Array.isArray(parts) ? parts : [[parts, false]]).forEach(p => {
    t.append("tspan").text(p[0]).attr("font-style", p[1] ? "italic" : "normal");
  });
}
const LF = 54, RF = 47;
label("Orthophosphate", 213, 51, LF);
label("(7.10 ppm)", 212, 108, LF);
label("Diester", 805, 538, LF);
label("(2.00 to -1.00 ppm)", 803, 601, LF);
label(sampleNames[0], 0, 687, LF, "start");
label("Monoester", 652, 936, LF);
label("(6.65 to 5.09 ppm)", 652, 1003, LF);
label("Pyrophosphate", 920, 1240, LF);
label("(-3.14 to -3.58 ppm)", 919, 1305, LF);
label(sampleNames[1], 50, 1418, LF, "start");
label("Adenosine diphosphate", 1213, 2074, LF);
label("(-9.36 to -9.41 ppm)", 1212, 2139, LF);
label(sampleNames[2], 28, 2220, LF, "start");

label("OrthoP", 1961, 123, RF);
label("(7.10 ppm)", 1960, 180, RF);
label("\u03b1 - Glycerophosphate", 2061, 245, RF, "start");
label("(6.25 ppm)", 2062, 303, RF, "start");
label("Others monoesters", 2396, 406, RF, "start");
label("(5.48 ppm; 5.36 ppm)", 2396, 465, RF, "start");
label("Adenosine monophosphate", 1995, 930, RF, "start");
label("(5.79 ppm)", 1995, 987, RF, "start");
label([["scyllo", true], ["-IHP", false]], 2418, 1232, RF, "start");
label("(5.09 ppm)", 2421, 1290, RF, "start");
label([["myo", true], ["-IHP", false]], 1965, 1747, RF, "start");
label("(6.65 ppm)", 1967, 1805, RF, "start");
label("\u03b2 - Glycerophosphate", 2230, 1845, RF, "start");
label("(5.97 ppm)", 2230, 1896, RF, "start");
label([["scyllo", true], ["-IHP", false]], 2408, 2042, RF, "start");
label("(5.09 ppm)", 2408, 2098, RF, "start");

// Brackets
function bracket(x1, x2, yBar, yEnd, cx, yTip) {
  svg.append("path")
    .attr("d", `M${x1},${yEnd}V${yBar + 4}Q${x1},${yBar} ${x1 + 4},${yBar}H${x2 - 4}Q${x2},${yBar} ${x2},${yBar + 4}V${yEnd}M${cx},${yBar}V${yTip}`)
    .attr("fill", "none").attr("stroke", "#333").attr("stroke-width", 2.5);
}
bracket(349, 417, 112, 129, 383, 95);
bracket(728, 810, 677, 696, 769, 660);
bracket(396, 524, 1038, 1058, 462, 1022);
bracket(862, 939, 1356, 1374, 900, 1337);
bracket(1169, 1256, 2207, 2225, 1213, 2189);

// Arrows
function arrow(x1, y1, x2, y2) {
  svg.append("line").attr("x1", x1).attr("y1", y1).attr("x2", x2).attr("y2", y2)
    .attr("stroke", "#111").attr("stroke-width", 2.2).attr("marker-end", "url(#ah)");
}
arrow(1970, 298, 1970, 204);
arrow(2125, 466, 2148, 358);
arrow(2247, 504, 2364, 427);
arrow(2195, 1143, 2195, 1010);
arrow(2318, 1224, 2394, 1244);
arrow(2049, 2122, 2049, 1842);
arrow(2166, 1950, 2204, 1853);
arrow(2305, 2032, 2381, 2056);
</script>
</body></html>
